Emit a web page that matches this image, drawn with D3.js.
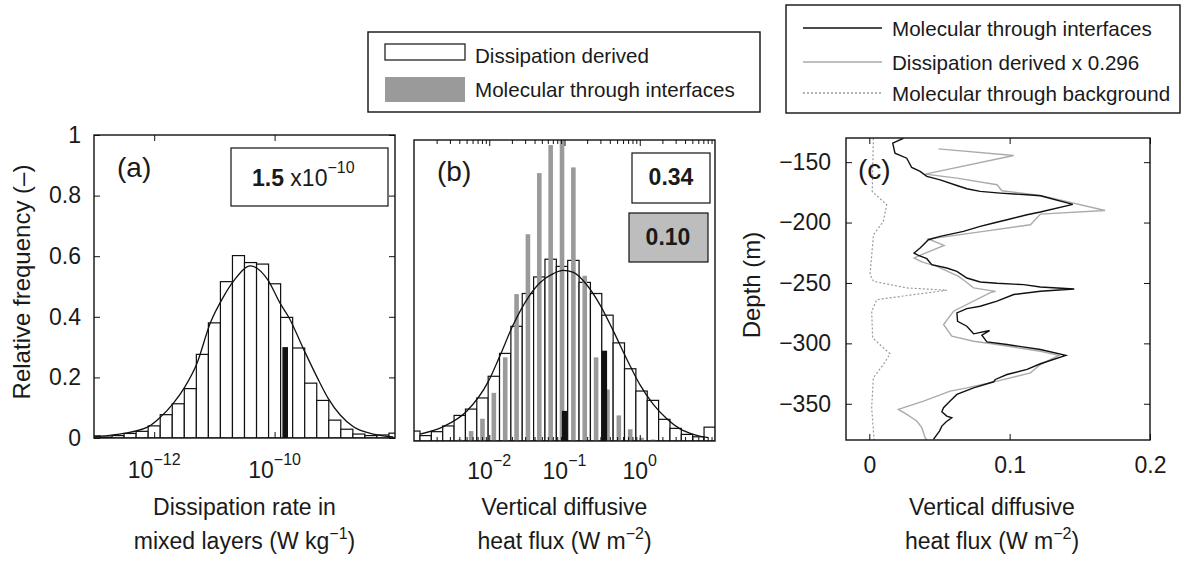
<!DOCTYPE html>
<html>
<head>
<meta charset="utf-8">
<script src="https://cdn.jsdelivr.net/npm/d3@7"></script>
<style>
  body { margin: 0; background: #fff; }
  svg text { font-family: "Liberation Sans", Arial, Helvetica, sans-serif; fill: #1a1a1a; }
</style>
</head>
<body>
<svg id="chart" width="1184" height="566"></svg>
<script>
// ---- (a) dissipation rate histogram: bin centres are log10(W/kg)
const binsA = [-13.0, -12.8, -12.6, -12.4, -12.2, -12.0, -11.8, -11.6, -11.4, -11.2, -11.0, -10.8, -10.6,
  -10.4, -10.2, -10.0, -9.8, -9.6, -9.4, -9.2, -9.0, -8.8, -8.6, -8.4, -8.2, -8.0];
const freqA = [0.007, 0.003, 0.008, 0.015, 0.022, 0.04, 0.077, 0.113, 0.163, 0.276, 0.38, 0.516, 0.602,
  0.579, 0.574, 0.509, 0.398, 0.297, 0.181, 0.124, 0.059, 0.029, 0.013, 0.008, 0.01, 0.016];
const fitA = [[-13.0, 0.004], [-12.68, 0.010], [-12.10, 0.037], [-11.90, 0.068], [-11.68, 0.115], [-11.49, 0.169],
  [-11.29, 0.246], [-11.07, 0.379], [-10.85, 0.466], [-10.67, 0.521], [-10.40, 0.568], [-10.11, 0.521],
  [-9.91, 0.445], [-9.76, 0.397], [-9.52, 0.294], [-9.27, 0.191], [-9.11, 0.131], [-8.91, 0.076],
  [-8.69, 0.037], [-8.36, 0.013], [-8.03, 0.004]];
const meanA = 1.5e-10;
const meanHeightA = 0.3;

// ---- (b) heat flux histograms: bin centres are log10(W/m2)
const binsB = [-2.996, -2.845, -2.694, -2.543, -2.392, -2.241, -2.090, -1.939, -1.788, -1.637, -1.486, -1.335,
  -1.184, -1.033, -0.882, -0.731, -0.580, -0.429, -0.278, -0.127, 0.024, 0.175, 0.326, 0.477, 0.628, 0.779, 0.930];
const freqB = [0.033, 0.018, 0.031, 0.05, 0.085, 0.106, 0.143, 0.215, 0.291, 0.381, 0.49, 0.545, 0.604, 0.58,
  0.60, 0.527, 0.49, 0.418, 0.326, 0.24, 0.166, 0.135, 0.072, 0.042, 0.022, 0.014, 0.046];
const freqBInterfaces = [0, 0, 0, 0, 0.005, 0.033, 0.074, 0.16, 0.278, 0.488, 0.687, 0.89, 0.983, 1.02, 0.909,
  0.549, 0.278, 0.171, 0.085, 0.039, 0.011, 0.005, 0, 0, 0, 0, 0];
const fitB = [[-2.92, 0.023], [-2.61, 0.048], [-2.30, 0.099], [-2.01, 0.199], [-1.86, 0.282], [-1.68, 0.387],
  [-1.50, 0.47], [-1.33, 0.525], [-1.15, 0.556], [-1.02, 0.567], [-0.88, 0.56], [-0.705, 0.519], [-0.53, 0.453],
  [-0.35, 0.365], [-0.17, 0.271], [0.0, 0.188], [0.18, 0.122], [0.36, 0.074], [0.53, 0.041], [0.71, 0.022],
  [0.91, 0.011]];
const meansB = [0.34, 0.10];
const meanHeightsB = [0.3, 0.1];

// ---- (c) profiles, [flux W/m2, depth m]
const molecularC = [[0.0243, -130.2], [0.0167, -134.3], [0.0183, -142.6], [0.0267, -146.7], [0.0302, -154.4],
  [0.0362, -157.7], [0.041, -161.8], [0.0505, -164.6], [0.0624, -169.3], [0.0695, -172], [0.079, -174.2],
  [0.0933, -175.6], [0.1124, -177], [0.1219, -177.8], [0.145, -185], [0.1219, -191.3], [0.1124, -193.5],
  [0.0981, -197.7], [0.0886, -200.4], [0.079, -203.2], [0.0671, -207.3], [0.0505, -211.4], [0.0421, -214.2],
  [0.0398, -216.9], [0.0362, -221.1], [0.0319, -225.2], [0.035, -227.1], [0.041, -229.9], [0.0445, -234.8],
  [0.0552, -237.6], [0.0624, -240.4], [0.0695, -245.9], [0.079, -249.2], [0.091, -250.3], [0.11, -251.4],
  [0.1219, -253.3], [0.146, -255], [0.1219, -256.9], [0.1029, -259.6], [0.091, -265.1], [0.079, -269.3],
  [0.0695, -271.2], [0.0624, -274.8], [0.0629, -281.7], [0.0695, -285.8], [0.0743, -292.1], [0.0857, -289.4],
  [0.0802, -293.3], [0.0838, -298.8], [0.0981, -301], [0.1219, -305.1], [0.14, -310], [0.1219, -316.9],
  [0.1124, -321.6], [0.0981, -325.8], [0.0898, -329.9], [0.0886, -331.8], [0.0743, -336.8], [0.0624, -342.3],
  [0.0576, -347.8], [0.0529, -353.3], [0.0517, -356.6], [0.0552, -360.2], [0.0588, -361.6], [0.0548, -364.9],
  [0.0517, -368.5], [0.05, -372.6], [0.0457, -379.5]];
const dissipationC = [[0.0493, -139], [0.1029, -144.5], [0.0398, -159.9], [0.0624, -163.2], [0.091, -168.7],
  [0.0945, -173.7], [0.1219, -177.5], [0.168, -190], [0.1219, -193], [0.1148, -201.8], [0.0814, -207.3],
  [0.0421, -213.6], [0.0533, -218.9], [0.0386, -226], [0.0319, -229.3], [0.0374, -232.6], [0.0481, -236.2],
  [0.0636, -244.5], [0.0683, -248.6], [0.0743, -254.1], [0.09, -257], [0.0862, -258], [0.06, -273.4],
  [0.0529, -284.4], [0.0588, -294.1], [0.0743, -298.2], [0.0862, -300.1], [0.1219, -306.5], [0.135, -310],
  [0.1219, -317.5], [0.1148, -324.4], [0.091, -331.3], [0.0695, -336.8], [0.0576, -339.5], [0.0386, -347.8],
  [0.0207, -354.7], [0.0267, -358.8], [0.0338, -364.3], [0.0374, -369.8], [0.0398, -378.1], [0.041, -380]];
const backgroundC = [[0.0029, -130.2], [0.0021, -174.3], [0.0124, -185.3], [0.010, -199.1], [0.003, -210],
  [0.0005, -243], [0.003, -248.7], [0.0267, -254.1], [0.0553, -256], [0.0314, -259.7], [0.0053, -263.8],
  [0.0017, -273.5], [0.0024, -295.5], [0.0148, -308.7], [0.010, -317.5], [0.0029, -328.5], [0.0017, -353.3],
  [0.0034, -380]];

const legendBars = ["Dissipation derived", "Molecular through interfaces"];
const legendLines = ["Molecular through interfaces", "Dissipation derived x 0.296", "Molecular through background"];

const svg = d3.select("#chart");
svg.append("rect").attr("width", 1184).attr("height", 566).attr("fill", "#fff");

const INK = "#111";
const TICK_FS = 23;
const LEG_FS = 20.6;

function panel(id, left, top, width, height) {
  const g = svg.append("g").attr("transform", `translate(${left},${top})`);
  g.append("clipPath").attr("id", id).append("rect").attr("width", width).attr("height", height);
  const plot = g.append("g").attr("clip-path", `url(#${id})`);
  return { g, plot, width, height };
}

function frame(p) {
  p.g.append("rect").attr("width", p.width).attr("height", p.height)
    .attr("fill", "none").attr("stroke", INK).attr("stroke-width", 1.4);
}

function styleAxis(sel) {
  sel.select(".domain").remove();
  sel.selectAll(".tick line").attr("stroke", INK).attr("stroke-width", 1);
  sel.attr("font-size", TICK_FS).attr("font-family", null);
}

function powLabel(g, x, y, exp) {
  const t = g.append("text").attr("x", x).attr("y", y).attr("text-anchor", "middle").attr("font-size", TICK_FS);
  t.append("tspan").text("10");
  t.append("tspan").attr("dy", -13).attr("font-size", 16).text(exp);
}

function caption(g, x, y, label) {
  g.append("text").attr("x", x).attr("y", y).attr("font-size", 28).text(label);
}

// ================= panel (a) =================
const A = panel("clipA", 94, 135, 301, 303);
const xA = d3.scaleLog().domain([1e-13, 1e-8]).range([0, A.width]);
const yA = d3.scaleLinear().domain([0, 1]).range([A.height, 0]);
const halfA = (binsA[1] - binsA[0]) / 2;

A.plot.selectAll("rect.bar").data(binsA).join("rect").attr("class", "bar")
  .attr("x", c => xA(10 ** (c - halfA)))
  .attr("width", c => xA(10 ** (c + halfA)) - xA(10 ** (c - halfA)))
  .attr("y", (c, i) => yA(freqA[i]))
  .attr("height", (c, i) => yA(0) - yA(freqA[i]))
  .attr("fill", "#fff").attr("stroke", INK).attr("stroke-width", 1.2);

A.plot.append("rect")
  .attr("x", xA(meanA) - 2.8).attr("width", 5.6)
  .attr("y", yA(meanHeightA)).attr("height", yA(0) - yA(meanHeightA))
  .attr("fill", "#111");

A.plot.append("path").datum(fitA)
  .attr("d", d3.line().x(d => xA(10 ** d[0])).y(d => yA(d[1])).curve(d3.curveMonotoneX))
  .attr("fill", "none").attr("stroke", INK).attr("stroke-width", 1.3);

const ticksA = [1e-12, 1e-10];
const tickExpA = ["\u221212", "\u221210"];
A.g.append("g").attr("transform", `translate(0,${A.height})`)
  .call(d3.axisBottom(xA).tickValues(ticksA).tickSizeInner(-6).tickSizeOuter(0).tickFormat("")).call(styleAxis);
A.g.append("g")
  .call(d3.axisTop(xA).tickValues(ticksA).tickSizeInner(-6).tickSizeOuter(0).tickFormat("")).call(styleAxis);
A.g.append("g")
  .call(d3.axisLeft(yA).tickValues([0, 0.2, 0.4, 0.6, 0.8, 1]).tickSizeInner(-6).tickSizeOuter(0)
    .tickPadding(13).tickFormat(d => String(d))).call(styleAxis);
A.g.append("g").attr("transform", `translate(${A.width},0)`)
  .call(d3.axisRight(yA).tickValues([0, 0.2, 0.4, 0.6, 0.8, 1]).tickSizeInner(-6).tickSizeOuter(0)
    .tickFormat("")).call(styleAxis);
ticksA.forEach((t, i) => powLabel(A.g, xA(t), A.height + 40, tickExpA[i]));
frame(A);

caption(A.g, 23, 42, "(a)");
A.g.append("rect").attr("x", 137).attr("y", 13).attr("width", 157).attr("height", 58)
  .attr("fill", "#fff").attr("stroke", INK).attr("stroke-width", 1.2);
{
  const t = A.g.append("text").attr("x", 158).attr("y", 51).attr("font-size", 23);
  t.append("tspan").attr("font-weight", "bold").text("1.5");
  t.append("tspan").text(" x10");
  t.append("tspan").attr("dy", -13).attr("font-size", 16).text("\u221210");
}

// ================= panel (b) =================
const B = panel("clipB", 414, 140, 301, 301);
const xB = d3.scaleLog().domain([1e-3, 1e1]).range([0, B.width]);
const yB = d3.scaleLinear().domain([0, 1]).range([B.height, 0]);
const halfB = (binsB[2] - binsB[1]) / 2;

B.plot.selectAll("rect.bar").data(binsB).join("rect").attr("class", "bar")
  .attr("x", c => xB(10 ** (c - halfB)))
  .attr("width", c => xB(10 ** (c + halfB)) - xB(10 ** (c - halfB)))
  .attr("y", (c, i) => yB(freqB[i]))
  .attr("height", (c, i) => yB(0) - yB(freqB[i]))
  .attr("fill", "#fff").attr("stroke", INK).attr("stroke-width", 1.2);

B.plot.selectAll("rect.mol").data(binsB).join("rect").attr("class", "mol")
  .attr("x", c => xB(10 ** c) - 2.3).attr("width", 4.6)
  .attr("y", (c, i) => yB(freqBInterfaces[i]))
  .attr("height", (c, i) => yB(0) - yB(freqBInterfaces[i]))
  .attr("fill", "#9a9a9a");

B.plot.selectAll("rect.mean").data(meansB).join("rect").attr("class", "mean")
  .attr("x", m => xB(m) - 2.6).attr("width", 5.2)
  .attr("y", (m, i) => yB(meanHeightsB[i]))
  .attr("height", (m, i) => yB(0) - yB(meanHeightsB[i]))
  .attr("fill", "#111");

B.plot.append("path").datum(fitB)
  .attr("d", d3.line().x(d => xB(10 ** d[0])).y(d => yB(d[1])).curve(d3.curveMonotoneX))
  .attr("fill", "none").attr("stroke", INK).attr("stroke-width", 1.3);

const ticksB = [1e-2, 1e-1, 1e0];
const tickExpB = ["\u22122", "\u22121", "0"];
const minorB = [];
[1e-3, 1e-2, 1e-1, 1e0].forEach(dec => [2, 3, 4, 5, 6, 7, 8, 9].forEach(m => minorB.push(m * dec)));
[[d3.axisBottom, B.height], [d3.axisTop, 0]].forEach(([ax, y0]) => {
  B.g.append("g").attr("transform", `translate(0,${y0})`)
    .call(ax(xB).tickValues(ticksB).tickSizeInner(-6).tickSizeOuter(0).tickFormat("")).call(styleAxis);
  B.g.append("g").attr("transform", `translate(0,${y0})`)
    .call(ax(xB).tickValues(minorB).tickSizeInner(-4).tickSizeOuter(0).tickFormat("")).call(styleAxis);
});
ticksB.forEach((t, i) => powLabel(B.g, xB(t), B.height + 38, tickExpB[i]));
frame(B);

caption(B.g, 23, 41, "(b)");
B.g.append("rect").attr("x", 218).attr("y", 13).attr("width", 78).attr("height", 50)
  .attr("fill", "#fff").attr("stroke", INK).attr("stroke-width", 1.2);
B.g.append("text").attr("x", 257).attr("y", 45).attr("text-anchor", "middle")
  .attr("font-size", 23).attr("font-weight", "bold").text(d3.format(".2f")(meansB[0]));
B.g.append("rect").attr("x", 215).attr("y", 73).attr("width", 79).attr("height", 49)
  .attr("fill", "#bdbdbd").attr("stroke", INK).attr("stroke-width", 1.2);
B.g.append("text").attr("x", 254).attr("y", 105).attr("text-anchor", "middle")
  .attr("font-size", 23).attr("font-weight", "bold").text(d3.format(".2f")(meansB[1]));

// ================= panel (c) =================
const C = panel("clipC", 846, 138, 304, 302);
const xC = d3.scaleLinear().domain([-0.0166, 0.2]).range([0, C.width]);
const yC = d3.scaleLinear().domain([-380, -130]).range([C.height, 0]);
const lineC = d3.line().x(d => xC(d[0])).y(d => yC(d[1]));

C.plot.append("path").datum(backgroundC).attr("d", lineC)
  .attr("fill", "none").attr("stroke", "#9a9a9a").attr("stroke-width", 1.2).attr("stroke-dasharray", "2,2");
C.plot.append("path").datum(dissipationC).attr("d", lineC)
  .attr("fill", "none").attr("stroke", "#ababab").attr("stroke-width", 1.4);
C.plot.append("path").datum(molecularC).attr("d", lineC)
  .attr("fill", "none").attr("stroke", "#111").attr("stroke-width", 1.4);

const ticksCx = [0, 0.1, 0.2];
const ticksCy = [-350, -300, -250, -200, -150];
C.g.append("g").attr("transform", `translate(0,${C.height})`)
  .call(d3.axisBottom(xC).tickValues(ticksCx).tickSizeInner(-6).tickSizeOuter(0).tickPadding(17)
    .tickFormat(d => String(d))).call(styleAxis);
C.g.append("g")
  .call(d3.axisTop(xC).tickValues(ticksCx).tickSizeInner(-6).tickSizeOuter(0).tickFormat("")).call(styleAxis);
C.g.append("g")
  .call(d3.axisLeft(yC).tickValues(ticksCy).tickSizeInner(-6).tickSizeOuter(0).tickPadding(15)
    .tickFormat(d3.format("d"))).call(styleAxis);
C.g.append("g").attr("transform", `translate(${C.width},0)`)
  .call(d3.axisRight(yC).tickValues(ticksCy).tickSizeInner(-6).tickSizeOuter(0).tickFormat("")).call(styleAxis);
frame(C);
caption(C.g, 12, 41, "(c)");

// ================= axis titles =================
svg.append("text").attr("transform", "translate(30,282) rotate(-90)").attr("text-anchor", "middle")
  .attr("font-size", 24).text("Relative frequency (\u2013)");
svg.append("text").attr("transform", "translate(760,285) rotate(-90)").attr("text-anchor", "middle")
  .attr("font-size", 24).text("Depth (m)");

function twoLineTitle(cx, line1, line2, exp) {
  svg.append("text").attr("x", cx).attr("y", 515).attr("text-anchor", "middle").attr("font-size", 23).text(line1);
  const t = svg.append("text").attr("x", cx).attr("y", 549).attr("text-anchor", "middle").attr("font-size", 23);
  t.append("tspan").text(line2);
  t.append("tspan").attr("dy", -10).attr("font-size", 16).text(exp);
  t.append("tspan").attr("dy", 10).text(")");
}
twoLineTitle(94 + A.width / 2, "Dissipation rate in", "mixed layers (W kg", "\u22121");
twoLineTitle(414 + B.width / 2, "Vertical diffusive", "heat flux (W m", "\u22122");
twoLineTitle(846 + C.width / 2 - 6, "Vertical diffusive", "heat flux (W m", "\u22122");

// ================= legends =================
const leg1 = svg.append("g").attr("transform", "translate(368,32)");
leg1.append("rect").attr("width", 392).attr("height", 80).attr("fill", "#fff").attr("stroke", INK).attr("stroke-width", 1.4);
leg1.append("rect").attr("x", 17).attr("y", 12).attr("width", 80).attr("height", 16)
  .attr("fill", "#fff").attr("stroke", INK).attr("stroke-width", 1.2);
leg1.append("rect").attr("x", 17).attr("y", 45).attr("width", 80).attr("height", 25).attr("fill", "#9a9a9a");
leg1.selectAll("text").data(legendBars).join("text")
  .attr("x", 107).attr("y", (d, i) => [31, 65][i]).attr("font-size", LEG_FS).text(d => d);

const leg2 = svg.append("g").attr("transform", "translate(786,5)");
leg2.append("rect").attr("width", 394).attr("height", 108).attr("fill", "#fff").attr("stroke", INK).attr("stroke-width", 1.4);
const legStyles = [{ c: "#111", d: null }, { c: "#ababab", d: null }, { c: "#9a9a9a", d: "2,2" }];
legendLines.forEach((label, i) => {
  const yy = [23, 57, 88][i];
  leg2.append("line").attr("x1", 17).attr("x2", 96).attr("y1", yy).attr("y2", yy)
    .attr("stroke", legStyles[i].c).attr("stroke-width", 1.3).attr("stroke-dasharray", legStyles[i].d);
  leg2.append("text").attr("x", 106).attr("y", yy + 8).attr("font-size", LEG_FS).text(label);
});
</script>
</body>
</html>
